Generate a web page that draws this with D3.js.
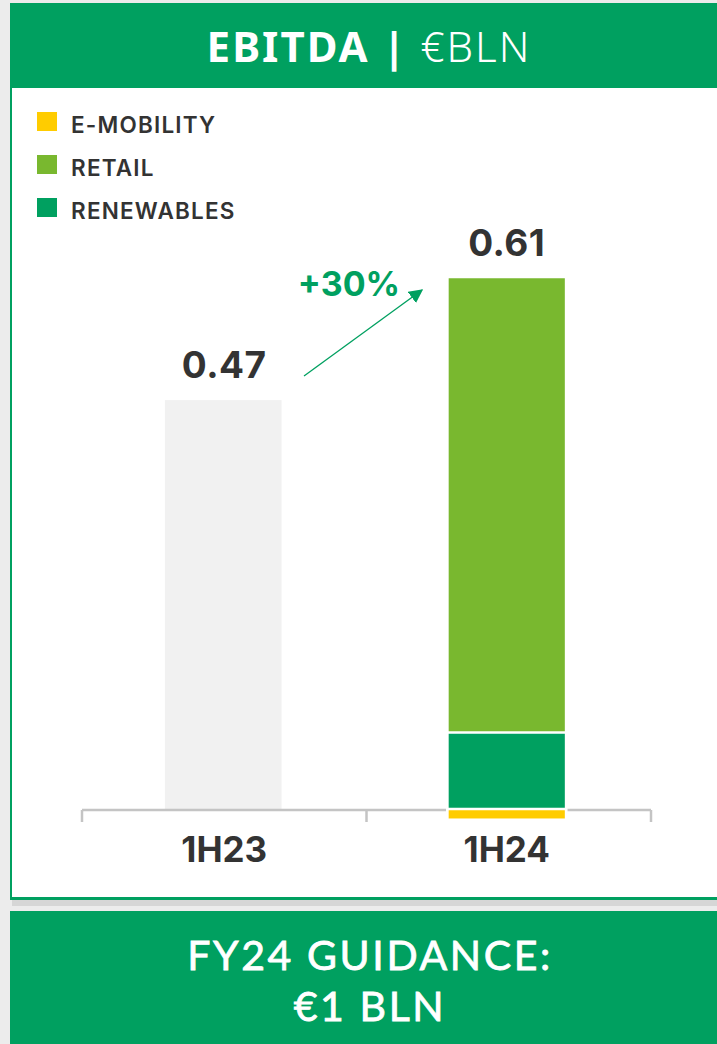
<!DOCTYPE html>
<html>
<head>
<meta charset="utf-8">
<script src="https://cdn.jsdelivr.net/npm/d3@7"></script>
<style>
  html, body { margin: 0; padding: 0; background: #ececec; }
  svg { display: block; }
</style>
</head>
<body>
<svg id="chart"></svg>
<script>
// values
const categories = ["1H23", "1H24"];
const totals = [0.47, 0.61];
const totalLabels = ["0.47", "0.61"];
const legendKeys = ["E-MOBILITY", "RETAIL", "RENEWABLES"];
const renewables = [0, 0.09];
const retail = [0, 0.52];
const eMobility = [0, -0.01];
const growthLabel = "+30%";
const guidanceLines = ["FY24 GUIDANCE:", "\u20AC1 BLN"];

const W = 717, H = 1044;
const GREEN = "#00a060", LIME = "#79b82f", YELLOW = "#ffcc00", GREY = "#f1f1f1", INK = "#333333";
const colorOf = { "E-MOBILITY": YELLOW, "RETAIL": LIME, "RENEWABLES": GREEN };

const svg = d3.select("#chart").attr("width", W).attr("height", H);

// panel + shadow
svg.append("rect").attr("x", 12).attr("y", 900).attr("width", W).attr("height", 6).attr("fill", "#d6d6d6");
svg.append("rect").attr("x", 10).attr("y", 3).attr("width", W).attr("height", 897).attr("fill", GREEN);
svg.append("rect").attr("x", 12).attr("y", 88).attr("width", W).attr("height", 809).attr("fill", "#fff");

// header title
const title = svg.append("text")
  .attr("x", 369).attr("y", 62)
  .attr("text-anchor", "middle")
  .style("font-family", "'Noto Sans', sans-serif")
  .style("font-size", "42px")
  .style("letter-spacing", "2px")
  .style("fill", "#fff");
title.append("tspan").style("font-weight", 700).text("EBITDA | ");
title.append("tspan").style("font-weight", 300).text("\u20ACBLN");

// legend
const legend = svg.append("g").attr("transform", "translate(37,112)");
const li = legend.selectAll("g").data(legendKeys).enter().append("g")
  .attr("transform", (d, i) => `translate(0,${i * 43})`);
li.append("rect").attr("width", 20).attr("height", 19).attr("fill", d => colorOf[d]);
li.append("text")
  .attr("x", 34).attr("y", 21)
  .style("font-family", "Inter, sans-serif")
  .style("font-weight", 600)
  .style("font-size", "22.5px")
  .style("letter-spacing", "1.2px")
  .style("fill", INK)
  .text(d => d);

// scales
const x = d3.scaleBand().domain(categories).range([82, 651]).padding(0);
const y = d3.scaleLinear().domain([0, 0.61]).range([810, 278]);
const barW = x.bandwidth() * 0.41;
const barX = d => x(d) + (x.bandwidth() - barW) / 2 - 1;

// 1H23 total bar (no split)
svg.append("rect")
  .attr("x", barX(categories[0])).attr("width", barW)
  .attr("y", y(totals[0])).attr("height", y(0) - y(totals[0]))
  .attr("fill", GREY);

// 1H24 stacked bar
const rows = categories.map((c, i) => ({ cat: c, "RENEWABLES": renewables[i], "RETAIL": retail[i], "E-MOBILITY": eMobility[i] }));
const stack = d3.stack().keys(["RENEWABLES", "RETAIL", "E-MOBILITY"]).offset(d3.stackOffsetDiverging);
const layers = stack(rows.slice(1));

// axis line with ticks at band edges
const axis = svg.append("g").attr("stroke", "#c4c4c4").attr("stroke-width", 2.5).attr("fill", "none");
axis.append("line").attr("x1", x.range()[0]).attr("x2", x.range()[1]).attr("y1", y(0)).attr("y2", y(0));
const edges = categories.map(c => x(c)).concat([x.range()[1]]);
axis.selectAll(".tk").data(edges).enter().append("line")
  .attr("x1", d => d).attr("x2", d => d).attr("y1", y(0)).attr("y2", y(0) + 12);

svg.append("g").selectAll("g").data(layers).enter().append("g")
  .attr("fill", d => colorOf[d.key])
  .selectAll("rect").data(d => d).enter().append("rect")
  .attr("x", d => barX(d.data.cat) - 2).attr("width", barW + 2)
  .attr("y", d => y(d[1]) - 1)
  .attr("height", d => y(d[0]) - y(d[1]) + 2)
  .attr("stroke", "#fff").attr("stroke-width", 2.5);

// value labels
svg.append("g").selectAll("text").data(categories).enter().append("text")
  .attr("x", (d, i) => x(d) + x.bandwidth() / 2 - i * 2)
  .attr("y", (d, i) => y(totals[i]) - 22)
  .attr("text-anchor", "middle")
  .style("font-family", "Inter, sans-serif")
  .style("font-weight", 700)
  .style("font-size", "37px")
  .style("letter-spacing", "0.5px")
  .style("fill", INK)
  .text((d, i) => totalLabels[i]);

// category labels
svg.append("g").selectAll("text").data(categories).enter().append("text")
  .attr("x", (d, i) => x(d) + x.bandwidth() / 2 - i * 2)
  .attr("y", 862)
  .attr("text-anchor", "middle")
  .style("font-family", "Inter, sans-serif")
  .style("font-weight", 700)
  .style("font-size", "35px")
  .style("fill", INK)
  .text(d => d);

// growth arrow
svg.append("defs").append("marker")
  .attr("id", "head").attr("viewBox", "0 0 10 10")
  .attr("refX", 9).attr("refY", 5)
  .attr("markerWidth", 14).attr("markerHeight", 14)
  .attr("markerUnits", "userSpaceOnUse")
  .attr("orient", "auto")
  .append("path").attr("d", "M0,0L10,5L0,10Z").attr("fill", GREEN);
svg.append("line")
  .attr("x1", 304).attr("y1", 376).attr("x2", 422).attr("y2", 290)
  .attr("stroke", GREEN).attr("stroke-width", 1.3)
  .attr("marker-end", "url(#head)");
svg.append("text")
  .attr("x", 349).attr("y", 296)
  .attr("text-anchor", "middle")
  .style("font-family", "Inter, sans-serif")
  .style("font-weight", 700)
  .style("font-size", "34px")
  .style("fill", GREEN)
  .text(growthLabel);

// guidance box
svg.append("rect").attr("x", 10).attr("y", 911).attr("width", W).attr("height", H - 911).attr("fill", GREEN);
svg.append("g").selectAll("text").data(guidanceLines).enter().append("text")
  .attr("x", 370).attr("y", (d, i) => 970 + i * 51)
  .attr("text-anchor", "middle")
  .style("font-family", "Lato, sans-serif")
  .style("font-weight", 400)
  .style("font-size", "41px")
  .style("letter-spacing", "2.6px")
  .style("fill", "#fff")
  .style("stroke", "#fff")
  .style("stroke-width", "0.8px")
  .text(d => d);
</script>
</body>
</html>
